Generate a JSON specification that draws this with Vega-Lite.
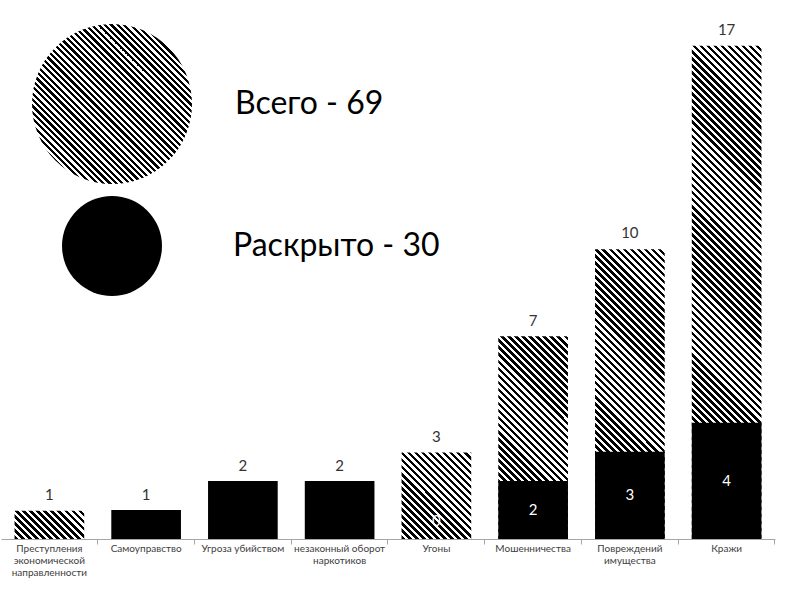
{
 "$schema": "https://vega.github.io/schema/vega-lite/v6.json",
 "width": 774, "height": 494,
 "autosize": {"type": "none"},
 "padding": {"left": 1, "top": 45, "right": 25, "bottom": 61},
 "background": "white",
 "config": {"view": {"stroke": null}, "font": "Lato"},
 "data": {"values": [
  {"category": "Преступления экономической направленности", "total": 1, "solved": 0},
  {"category": "Самоуправство", "total": 1, "solved": 1},
  {"category": "Угроза убийством", "total": 2, "solved": 2},
  {"category": "незаконный оборот наркотиков", "total": 2, "solved": 2},
  {"category": "Угоны", "total": 3, "solved": 0},
  {"category": "Мошенничества", "total": 7, "solved": 2},
  {"category": "Повреждений имущества", "total": 10, "solved": 3},
  {"category": "Кражи", "total": 17, "solved": 4}
 ]},
 "encoding": {
  "x": {"field": "category", "type": "nominal",
   "sort": ["Преступления экономической направленности", "Самоуправство", "Угроза убийством", "незаконный оборот наркотиков", "Угоны", "Мошенничества", "Повреждений имущества", "Кражи"],
   "scale": {"paddingInner": 0.28, "paddingOuter": 0.14},
   "axis": {"title": null, "labelAngle": 0, "bandPosition": 1.1944, "domainColor": "#a6a6a6", "tickColor": "#a6a6a6", "tickSize": 5, "labelFont": "Lato", "labelFontSize": 10, "labelColor": "#404040", "labelPadding": -1, "labelBaseline": "top", "labelLineHeight": 12, "labelLimit": 200, "labelOverlap": false, "grid": false,
    "labelExpr": "datum.label == 'Преступления экономической направленности' ? ['Преступления', 'экономической', 'направленности'] : datum.label == 'незаконный оборот наркотиков' ? ['незаконный оборот', 'наркотиков'] : datum.label == 'Повреждений имущества' ? ['Повреждений', 'имущества'] : datum.label"}}
 },
 "layer": [
  {"transform": [{"filter": "datum.total > datum.solved"}],
   "mark": {"type": "bar", "color": {"gradient":"linear","x1":0,"y1":1,"x2":0.1578,"y2":-0.1188,"stops":[
{"offset":0,"color":"#000"},
{"offset":0.00625,"color":"#000"},{"offset":0.00625,"color":"#fff"},{"offset":0.0125,"color":"#fff"},{"offset":0.0125,"color":"#000"},
{"offset":0.01875,"color":"#000"},{"offset":0.01875,"color":"#fff"},{"offset":0.025,"color":"#fff"},{"offset":0.025,"color":"#000"},
{"offset":0.03125,"color":"#000"},{"offset":0.03125,"color":"#fff"},{"offset":0.0375,"color":"#fff"},{"offset":0.0375,"color":"#000"},
{"offset":0.04375,"color":"#000"},{"offset":0.04375,"color":"#fff"},{"offset":0.05,"color":"#fff"},{"offset":0.05,"color":"#000"},
{"offset":0.05625,"color":"#000"},{"offset":0.05625,"color":"#fff"},{"offset":0.0625,"color":"#fff"},{"offset":0.0625,"color":"#000"},
{"offset":0.06875,"color":"#000"},{"offset":0.06875,"color":"#fff"},{"offset":0.075,"color":"#fff"},{"offset":0.075,"color":"#000"},
{"offset":0.08125,"color":"#000"},{"offset":0.08125,"color":"#fff"},{"offset":0.0875,"color":"#fff"},{"offset":0.0875,"color":"#000"},
{"offset":0.09375,"color":"#000"},{"offset":0.09375,"color":"#fff"},{"offset":0.1,"color":"#fff"},{"offset":0.1,"color":"#000"},
{"offset":0.10625,"color":"#000"},{"offset":0.10625,"color":"#fff"},{"offset":0.1125,"color":"#fff"},{"offset":0.1125,"color":"#000"},
{"offset":0.11875,"color":"#000"},{"offset":0.11875,"color":"#fff"},{"offset":0.125,"color":"#fff"},{"offset":0.125,"color":"#000"},
{"offset":0.13125,"color":"#000"},{"offset":0.13125,"color":"#fff"},{"offset":0.1375,"color":"#fff"},{"offset":0.1375,"color":"#000"},
{"offset":0.14375,"color":"#000"},{"offset":0.14375,"color":"#fff"},{"offset":0.15,"color":"#fff"},{"offset":0.15,"color":"#000"},
{"offset":0.15625,"color":"#000"},{"offset":0.15625,"color":"#fff"},{"offset":0.1625,"color":"#fff"},{"offset":0.1625,"color":"#000"},
{"offset":0.16875,"color":"#000"},{"offset":0.16875,"color":"#fff"},{"offset":0.175,"color":"#fff"},{"offset":0.175,"color":"#000"},
{"offset":0.18125,"color":"#000"},{"offset":0.18125,"color":"#fff"},{"offset":0.1875,"color":"#fff"},{"offset":0.1875,"color":"#000"},
{"offset":0.19375,"color":"#000"},{"offset":0.19375,"color":"#fff"},{"offset":0.2,"color":"#fff"},{"offset":0.2,"color":"#000"},
{"offset":0.20625,"color":"#000"},{"offset":0.20625,"color":"#fff"},{"offset":0.2125,"color":"#fff"},{"offset":0.2125,"color":"#000"},
{"offset":0.21875,"color":"#000"},{"offset":0.21875,"color":"#fff"},{"offset":0.225,"color":"#fff"},{"offset":0.225,"color":"#000"},
{"offset":0.23125,"color":"#000"},{"offset":0.23125,"color":"#fff"},{"offset":0.2375,"color":"#fff"},{"offset":0.2375,"color":"#000"},
{"offset":0.24375,"color":"#000"},{"offset":0.24375,"color":"#fff"},{"offset":0.25,"color":"#fff"},{"offset":0.25,"color":"#000"},
{"offset":0.25625,"color":"#000"},{"offset":0.25625,"color":"#fff"},{"offset":0.2625,"color":"#fff"},{"offset":0.2625,"color":"#000"},
{"offset":0.26875,"color":"#000"},{"offset":0.26875,"color":"#fff"},{"offset":0.275,"color":"#fff"},{"offset":0.275,"color":"#000"},
{"offset":0.28125,"color":"#000"},{"offset":0.28125,"color":"#fff"},{"offset":0.2875,"color":"#fff"},{"offset":0.2875,"color":"#000"},
{"offset":0.29375,"color":"#000"},{"offset":0.29375,"color":"#fff"},{"offset":0.3,"color":"#fff"},{"offset":0.3,"color":"#000"},
{"offset":0.30625,"color":"#000"},{"offset":0.30625,"color":"#fff"},{"offset":0.3125,"color":"#fff"},{"offset":0.3125,"color":"#000"},
{"offset":0.31875,"color":"#000"},{"offset":0.31875,"color":"#fff"},{"offset":0.325,"color":"#fff"},{"offset":0.325,"color":"#000"},
{"offset":0.33125,"color":"#000"},{"offset":0.33125,"color":"#fff"},{"offset":0.3375,"color":"#fff"},{"offset":0.3375,"color":"#000"},
{"offset":0.34375,"color":"#000"},{"offset":0.34375,"color":"#fff"},{"offset":0.35,"color":"#fff"},{"offset":0.35,"color":"#000"},
{"offset":0.35625,"color":"#000"},{"offset":0.35625,"color":"#fff"},{"offset":0.3625,"color":"#fff"},{"offset":0.3625,"color":"#000"},
{"offset":0.36875,"color":"#000"},{"offset":0.36875,"color":"#fff"},{"offset":0.375,"color":"#fff"},{"offset":0.375,"color":"#000"},
{"offset":0.38125,"color":"#000"},{"offset":0.38125,"color":"#fff"},{"offset":0.3875,"color":"#fff"},{"offset":0.3875,"color":"#000"},
{"offset":0.39375,"color":"#000"},{"offset":0.39375,"color":"#fff"},{"offset":0.4,"color":"#fff"},{"offset":0.4,"color":"#000"},
{"offset":0.40625,"color":"#000"},{"offset":0.40625,"color":"#fff"},{"offset":0.4125,"color":"#fff"},{"offset":0.4125,"color":"#000"},
{"offset":0.41875,"color":"#000"},{"offset":0.41875,"color":"#fff"},{"offset":0.425,"color":"#fff"},{"offset":0.425,"color":"#000"},
{"offset":0.43125,"color":"#000"},{"offset":0.43125,"color":"#fff"},{"offset":0.4375,"color":"#fff"},{"offset":0.4375,"color":"#000"},
{"offset":0.44375,"color":"#000"},{"offset":0.44375,"color":"#fff"},{"offset":0.45,"color":"#fff"},{"offset":0.45,"color":"#000"},
{"offset":0.45625,"color":"#000"},{"offset":0.45625,"color":"#fff"},{"offset":0.4625,"color":"#fff"},{"offset":0.4625,"color":"#000"},
{"offset":0.46875,"color":"#000"},{"offset":0.46875,"color":"#fff"},{"offset":0.475,"color":"#fff"},{"offset":0.475,"color":"#000"},
{"offset":0.48125,"color":"#000"},{"offset":0.48125,"color":"#fff"},{"offset":0.4875,"color":"#fff"},{"offset":0.4875,"color":"#000"},
{"offset":0.49375,"color":"#000"},{"offset":0.49375,"color":"#fff"},{"offset":0.5,"color":"#fff"},{"offset":0.5,"color":"#000"},
{"offset":0.50625,"color":"#000"},{"offset":0.50625,"color":"#fff"},{"offset":0.5125,"color":"#fff"},{"offset":0.5125,"color":"#000"},
{"offset":0.51875,"color":"#000"},{"offset":0.51875,"color":"#fff"},{"offset":0.525,"color":"#fff"},{"offset":0.525,"color":"#000"},
{"offset":0.53125,"color":"#000"},{"offset":0.53125,"color":"#fff"},{"offset":0.5375,"color":"#fff"},{"offset":0.5375,"color":"#000"},
{"offset":0.54375,"color":"#000"},{"offset":0.54375,"color":"#fff"},{"offset":0.55,"color":"#fff"},{"offset":0.55,"color":"#000"},
{"offset":0.55625,"color":"#000"},{"offset":0.55625,"color":"#fff"},{"offset":0.5625,"color":"#fff"},{"offset":0.5625,"color":"#000"},
{"offset":0.56875,"color":"#000"},{"offset":0.56875,"color":"#fff"},{"offset":0.575,"color":"#fff"},{"offset":0.575,"color":"#000"},
{"offset":0.58125,"color":"#000"},{"offset":0.58125,"color":"#fff"},{"offset":0.5875,"color":"#fff"},{"offset":0.5875,"color":"#000"},
{"offset":0.59375,"color":"#000"},{"offset":0.59375,"color":"#fff"},{"offset":0.6,"color":"#fff"},{"offset":0.6,"color":"#000"},
{"offset":0.60625,"color":"#000"},{"offset":0.60625,"color":"#fff"},{"offset":0.6125,"color":"#fff"},{"offset":0.6125,"color":"#000"},
{"offset":0.61875,"color":"#000"},{"offset":0.61875,"color":"#fff"},{"offset":0.625,"color":"#fff"},{"offset":0.625,"color":"#000"},
{"offset":0.63125,"color":"#000"},{"offset":0.63125,"color":"#fff"},{"offset":0.6375,"color":"#fff"},{"offset":0.6375,"color":"#000"},
{"offset":0.64375,"color":"#000"},{"offset":0.64375,"color":"#fff"},{"offset":0.65,"color":"#fff"},{"offset":0.65,"color":"#000"},
{"offset":0.65625,"color":"#000"},{"offset":0.65625,"color":"#fff"},{"offset":0.6625,"color":"#fff"},{"offset":0.6625,"color":"#000"},
{"offset":0.66875,"color":"#000"},{"offset":0.66875,"color":"#fff"},{"offset":0.675,"color":"#fff"},{"offset":0.675,"color":"#000"},
{"offset":0.68125,"color":"#000"},{"offset":0.68125,"color":"#fff"},{"offset":0.6875,"color":"#fff"},{"offset":0.6875,"color":"#000"},
{"offset":0.69375,"color":"#000"},{"offset":0.69375,"color":"#fff"},{"offset":0.7,"color":"#fff"},{"offset":0.7,"color":"#000"},
{"offset":0.70625,"color":"#000"},{"offset":0.70625,"color":"#fff"},{"offset":0.7125,"color":"#fff"},{"offset":0.7125,"color":"#000"},
{"offset":0.71875,"color":"#000"},{"offset":0.71875,"color":"#fff"},{"offset":0.725,"color":"#fff"},{"offset":0.725,"color":"#000"},
{"offset":0.73125,"color":"#000"},{"offset":0.73125,"color":"#fff"},{"offset":0.7375,"color":"#fff"},{"offset":0.7375,"color":"#000"},
{"offset":0.74375,"color":"#000"},{"offset":0.74375,"color":"#fff"},{"offset":0.75,"color":"#fff"},{"offset":0.75,"color":"#000"},
{"offset":0.75625,"color":"#000"},{"offset":0.75625,"color":"#fff"},{"offset":0.7625,"color":"#fff"},{"offset":0.7625,"color":"#000"},
{"offset":0.76875,"color":"#000"},{"offset":0.76875,"color":"#fff"},{"offset":0.775,"color":"#fff"},{"offset":0.775,"color":"#000"},
{"offset":0.78125,"color":"#000"},{"offset":0.78125,"color":"#fff"},{"offset":0.7875,"color":"#fff"},{"offset":0.7875,"color":"#000"},
{"offset":0.79375,"color":"#000"},{"offset":0.79375,"color":"#fff"},{"offset":0.8,"color":"#fff"},{"offset":0.8,"color":"#000"},
{"offset":0.80625,"color":"#000"},{"offset":0.80625,"color":"#fff"},{"offset":0.8125,"color":"#fff"},{"offset":0.8125,"color":"#000"},
{"offset":0.81875,"color":"#000"},{"offset":0.81875,"color":"#fff"},{"offset":0.825,"color":"#fff"},{"offset":0.825,"color":"#000"},
{"offset":0.83125,"color":"#000"},{"offset":0.83125,"color":"#fff"},{"offset":0.8375,"color":"#fff"},{"offset":0.8375,"color":"#000"},
{"offset":0.84375,"color":"#000"},{"offset":0.84375,"color":"#fff"},{"offset":0.85,"color":"#fff"},{"offset":0.85,"color":"#000"},
{"offset":0.85625,"color":"#000"},{"offset":0.85625,"color":"#fff"},{"offset":0.8625,"color":"#fff"},{"offset":0.8625,"color":"#000"},
{"offset":0.86875,"color":"#000"},{"offset":0.86875,"color":"#fff"},{"offset":0.875,"color":"#fff"},{"offset":0.875,"color":"#000"},
{"offset":0.88125,"color":"#000"},{"offset":0.88125,"color":"#fff"},{"offset":0.8875,"color":"#fff"},{"offset":0.8875,"color":"#000"},
{"offset":0.89375,"color":"#000"},{"offset":0.89375,"color":"#fff"},{"offset":0.9,"color":"#fff"},{"offset":0.9,"color":"#000"},
{"offset":0.90625,"color":"#000"},{"offset":0.90625,"color":"#fff"},{"offset":0.9125,"color":"#fff"},{"offset":0.9125,"color":"#000"},
{"offset":0.91875,"color":"#000"},{"offset":0.91875,"color":"#fff"},{"offset":0.925,"color":"#fff"},{"offset":0.925,"color":"#000"},
{"offset":0.93125,"color":"#000"},{"offset":0.93125,"color":"#fff"},{"offset":0.9375,"color":"#fff"},{"offset":0.9375,"color":"#000"},
{"offset":0.94375,"color":"#000"},{"offset":0.94375,"color":"#fff"},{"offset":0.95,"color":"#fff"},{"offset":0.95,"color":"#000"},
{"offset":0.95625,"color":"#000"},{"offset":0.95625,"color":"#fff"},{"offset":0.9625,"color":"#fff"},{"offset":0.9625,"color":"#000"},
{"offset":0.96875,"color":"#000"},{"offset":0.96875,"color":"#fff"},{"offset":0.975,"color":"#fff"},{"offset":0.975,"color":"#000"},
{"offset":0.98125,"color":"#000"},{"offset":0.98125,"color":"#fff"},{"offset":0.9875,"color":"#fff"},{"offset":0.9875,"color":"#000"},
{"offset":0.99375,"color":"#000"},{"offset":0.99375,"color":"#fff"},{"offset":1,"color":"#fff"}
   ]}},
   "encoding": {
    "y": {"datum": 17, "type": "quantitative", "scale": {"domain": [0, 17], "nice": false}, "axis": null},
    "y2": {"datum": 0}}},
  {"transform": [{"filter": "false"}],
   "mark": {"type": "bar", "stroke": "black", "color": {"gradient":"linear","x1":0,"y1":1,"x2":1,"y2":0,"stops":[
{"offset":0,"color":"#000"},
{"offset":0.01,"color":"#000"},{"offset":0.01,"color":"#fff"},{"offset":0.02,"color":"#fff"},{"offset":0.02,"color":"#000"},
{"offset":0.03,"color":"#000"},{"offset":0.03,"color":"#fff"},{"offset":0.04,"color":"#fff"},{"offset":0.04,"color":"#000"},
{"offset":0.05,"color":"#000"},{"offset":0.05,"color":"#fff"},{"offset":0.06,"color":"#fff"},{"offset":0.06,"color":"#000"},
{"offset":0.07,"color":"#000"},{"offset":0.07,"color":"#fff"},{"offset":0.08,"color":"#fff"},{"offset":0.08,"color":"#000"},
{"offset":0.09,"color":"#000"},{"offset":0.09,"color":"#fff"},{"offset":0.1,"color":"#fff"},{"offset":0.1,"color":"#000"},
{"offset":0.11,"color":"#000"},{"offset":0.11,"color":"#fff"},{"offset":0.12,"color":"#fff"},{"offset":0.12,"color":"#000"},
{"offset":0.13,"color":"#000"},{"offset":0.13,"color":"#fff"},{"offset":0.14,"color":"#fff"},{"offset":0.14,"color":"#000"},
{"offset":0.15,"color":"#000"},{"offset":0.15,"color":"#fff"},{"offset":0.16,"color":"#fff"},{"offset":0.16,"color":"#000"},
{"offset":0.17,"color":"#000"},{"offset":0.17,"color":"#fff"},{"offset":0.18,"color":"#fff"},{"offset":0.18,"color":"#000"},
{"offset":0.19,"color":"#000"},{"offset":0.19,"color":"#fff"},{"offset":0.2,"color":"#fff"},{"offset":0.2,"color":"#000"},
{"offset":0.21,"color":"#000"},{"offset":0.21,"color":"#fff"},{"offset":0.22,"color":"#fff"},{"offset":0.22,"color":"#000"},
{"offset":0.23,"color":"#000"},{"offset":0.23,"color":"#fff"},{"offset":0.24,"color":"#fff"},{"offset":0.24,"color":"#000"},
{"offset":0.25,"color":"#000"},{"offset":0.25,"color":"#fff"},{"offset":0.26,"color":"#fff"},{"offset":0.26,"color":"#000"},
{"offset":0.27,"color":"#000"},{"offset":0.27,"color":"#fff"},{"offset":0.28,"color":"#fff"},{"offset":0.28,"color":"#000"},
{"offset":0.29,"color":"#000"},{"offset":0.29,"color":"#fff"},{"offset":0.3,"color":"#fff"},{"offset":0.3,"color":"#000"},
{"offset":0.31,"color":"#000"},{"offset":0.31,"color":"#fff"},{"offset":0.32,"color":"#fff"},{"offset":0.32,"color":"#000"},
{"offset":0.33,"color":"#000"},{"offset":0.33,"color":"#fff"},{"offset":0.34,"color":"#fff"},{"offset":0.34,"color":"#000"},
{"offset":0.35,"color":"#000"},{"offset":0.35,"color":"#fff"},{"offset":0.36,"color":"#fff"},{"offset":0.36,"color":"#000"},
{"offset":0.37,"color":"#000"},{"offset":0.37,"color":"#fff"},{"offset":0.38,"color":"#fff"},{"offset":0.38,"color":"#000"},
{"offset":0.39,"color":"#000"},{"offset":0.39,"color":"#fff"},{"offset":0.4,"color":"#fff"},{"offset":0.4,"color":"#000"},
{"offset":0.41,"color":"#000"},{"offset":0.41,"color":"#fff"},{"offset":0.42,"color":"#fff"},{"offset":0.42,"color":"#000"},
{"offset":0.43,"color":"#000"},{"offset":0.43,"color":"#fff"},{"offset":0.44,"color":"#fff"},{"offset":0.44,"color":"#000"},
{"offset":0.45,"color":"#000"},{"offset":0.45,"color":"#fff"},{"offset":0.46,"color":"#fff"},{"offset":0.46,"color":"#000"},
{"offset":0.47,"color":"#000"},{"offset":0.47,"color":"#fff"},{"offset":0.48,"color":"#fff"},{"offset":0.48,"color":"#000"},
{"offset":0.49,"color":"#000"},{"offset":0.49,"color":"#fff"},{"offset":0.5,"color":"#fff"},{"offset":0.5,"color":"#000"},
{"offset":0.51,"color":"#000"},{"offset":0.51,"color":"#fff"},{"offset":0.52,"color":"#fff"},{"offset":0.52,"color":"#000"},
{"offset":0.53,"color":"#000"},{"offset":0.53,"color":"#fff"},{"offset":0.54,"color":"#fff"},{"offset":0.54,"color":"#000"},
{"offset":0.55,"color":"#000"},{"offset":0.55,"color":"#fff"},{"offset":0.56,"color":"#fff"},{"offset":0.56,"color":"#000"},
{"offset":0.57,"color":"#000"},{"offset":0.57,"color":"#fff"},{"offset":0.58,"color":"#fff"},{"offset":0.58,"color":"#000"},
{"offset":0.59,"color":"#000"},{"offset":0.59,"color":"#fff"},{"offset":0.6,"color":"#fff"},{"offset":0.6,"color":"#000"},
{"offset":0.61,"color":"#000"},{"offset":0.61,"color":"#fff"},{"offset":0.62,"color":"#fff"},{"offset":0.62,"color":"#000"},
{"offset":0.63,"color":"#000"},{"offset":0.63,"color":"#fff"},{"offset":0.64,"color":"#fff"},{"offset":0.64,"color":"#000"},
{"offset":0.65,"color":"#000"},{"offset":0.65,"color":"#fff"},{"offset":0.66,"color":"#fff"},{"offset":0.66,"color":"#000"},
{"offset":0.67,"color":"#000"},{"offset":0.67,"color":"#fff"},{"offset":0.68,"color":"#fff"},{"offset":0.68,"color":"#000"},
{"offset":0.69,"color":"#000"},{"offset":0.69,"color":"#fff"},{"offset":0.7,"color":"#fff"},{"offset":0.7,"color":"#000"},
{"offset":0.71,"color":"#000"},{"offset":0.71,"color":"#fff"},{"offset":0.72,"color":"#fff"},{"offset":0.72,"color":"#000"},
{"offset":0.73,"color":"#000"},{"offset":0.73,"color":"#fff"},{"offset":0.74,"color":"#fff"},{"offset":0.74,"color":"#000"},
{"offset":0.75,"color":"#000"},{"offset":0.75,"color":"#fff"},{"offset":0.76,"color":"#fff"},{"offset":0.76,"color":"#000"},
{"offset":0.77,"color":"#000"},{"offset":0.77,"color":"#fff"},{"offset":0.78,"color":"#fff"},{"offset":0.78,"color":"#000"},
{"offset":0.79,"color":"#000"},{"offset":0.79,"color":"#fff"},{"offset":0.8,"color":"#fff"},{"offset":0.8,"color":"#000"},
{"offset":0.81,"color":"#000"},{"offset":0.81,"color":"#fff"},{"offset":0.82,"color":"#fff"},{"offset":0.82,"color":"#000"},
{"offset":0.83,"color":"#000"},{"offset":0.83,"color":"#fff"},{"offset":0.84,"color":"#fff"},{"offset":0.84,"color":"#000"},
{"offset":0.85,"color":"#000"},{"offset":0.85,"color":"#fff"},{"offset":0.86,"color":"#fff"},{"offset":0.86,"color":"#000"},
{"offset":0.87,"color":"#000"},{"offset":0.87,"color":"#fff"},{"offset":0.88,"color":"#fff"},{"offset":0.88,"color":"#000"},
{"offset":0.89,"color":"#000"},{"offset":0.89,"color":"#fff"},{"offset":0.9,"color":"#fff"},{"offset":0.9,"color":"#000"},
{"offset":0.91,"color":"#000"},{"offset":0.91,"color":"#fff"},{"offset":0.92,"color":"#fff"},{"offset":0.92,"color":"#000"},
{"offset":0.93,"color":"#000"},{"offset":0.93,"color":"#fff"},{"offset":0.94,"color":"#fff"},{"offset":0.94,"color":"#000"},
{"offset":0.95,"color":"#000"},{"offset":0.95,"color":"#fff"},{"offset":0.96,"color":"#fff"},{"offset":0.96,"color":"#000"},
{"offset":0.97,"color":"#000"},{"offset":0.97,"color":"#fff"},{"offset":0.98,"color":"#fff"},{"offset":0.98,"color":"#000"},
{"offset":0.99,"color":"#000"},{"offset":0.99,"color":"#fff"},{"offset":1,"color":"#fff"}
   ]}},
   "encoding": {
    "y": {"datum": 0, "type": "quantitative", "scale": {"domain": [0, 17], "nice": false}, "axis": null},
    "y2": {"datum": 0},
    "opacity": {"datum": "Всего - 69", "type": "nominal", "scale": {"range": [1]},
     "legend": {"orient": "none", "legendX": 30, "legendY": -22, "title": null, "padding": 0, "symbolType": "circle", "symbolSize": 25600, "symbolStrokeWidth": 2, "symbolStrokeColor": "black", "symbolOffset": 0, "labelFont": "Lato", "labelFontSize": 32, "labelColor": "black", "labelOffset": 42, "labelLimit": 400,
      "encode": {"symbols": {"stroke": {"value": "black"}}}}}}},
  {"mark": {"type": "bar", "color": "white", "stroke": "white", "strokeWidth": 1.5},
   "encoding": {
    "y": {"field": "total", "type": "quantitative", "scale": {"domain": [0, 17], "nice": false}, "axis": null},
    "y2": {"datum": 17}}},
  {"mark": {"type": "bar", "color": "black"},
   "encoding": {
    "y": {"field": "solved", "type": "quantitative", "scale": {"domain": [0, 17], "nice": false}, "axis": null},
    "color": {"datum": "Раскрыто - 30", "type": "nominal", "scale": {"range": ["black"]},
     "legend": {"orient": "none", "legendX": 61, "legendY": 151, "title": null, "padding": 0, "symbolType": "circle", "symbolSize": 10000, "symbolStrokeWidth": 0, "symbolOffset": 0, "labelFont": "Lato", "labelFontSize": 32, "labelColor": "black", "labelOffset": 71, "labelLimit": 400}}}},
  {"mark": {"type": "text", "baseline": "alphabetic", "dy": -10, "fontSize": 15, "font": "Lato", "color": "#333333"},
   "encoding": {
    "y": {"field": "total", "type": "quantitative", "scale": {"domain": [0, 17], "nice": false}, "axis": null},
    "text": {"field": "total", "type": "quantitative"}}},
  {"transform": [{"filter": "datum.total >= 3 && datum.solved > 0"}],
   "mark": {"type": "text", "baseline": "middle", "fontSize": 15, "font": "Lato", "color": "white"},
   "encoding": {
    "y": {"field": "solved", "type": "quantitative", "stack": "zero", "bandPosition": 0.5, "scale": {"domain": [0, 17], "nice": false}, "axis": null},
    "text": {"field": "solved", "type": "quantitative"}}},
  {"transform": [{"filter": "datum.total >= 3 && datum.solved == 0"}],
   "mark": {"type": "text", "baseline": "middle", "dy": -18, "fontSize": 15, "font": "Lato", "color": "white"},
   "encoding": {
    "y": {"field": "solved", "type": "quantitative", "scale": {"domain": [0, 17], "nice": false}, "axis": null},
    "text": {"field": "solved", "type": "quantitative"}}}
 ]
}
